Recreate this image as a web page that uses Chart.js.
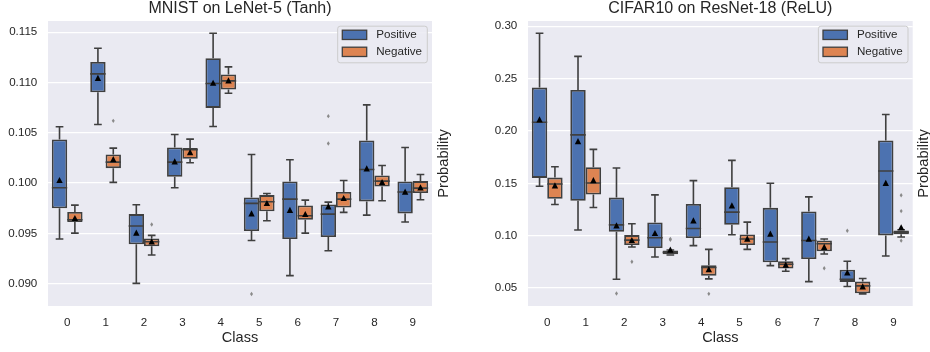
<!DOCTYPE html>
<html><head><meta charset="utf-8">
<script src="https://cdn.jsdelivr.net/npm/chart.js@4"></script>
<style>
html,body{margin:0;padding:0;background:#fff;}
#wrap{position:relative;width:930px;height:352px;overflow:hidden;}
.box{position:absolute;top:0;width:465px;height:352px;}
canvas{display:block;}
</style></head><body>
<div id="wrap">
<div class="box" style="left:0"><canvas id="c1" width="465" height="352"></canvas></div>
<div class="box" style="left:465px"><canvas id="c2" width="465" height="352"></canvas></div>
</div>
<script>
// ---------- data ----------
const classes = ['0','1','2','3','4','5','6','7','8','9'];
const seriesNames = ['Positive','Negative'];

const mnistYTicks = [0.090,0.095,0.100,0.105,0.110,0.115];
const cifarYTicks = [0.05,0.10,0.15,0.20,0.25,0.30];

// MNIST on LeNet-5 (Tanh) — Positive
const mnistPosLo   = [0.09444,0.10583,0.09003,0.09954,0.10563,0.09430,0.09080,0.09328,0.09682,0.09613];
const mnistPosQ1   = [0.09749,0.10904,0.09391,0.10063,0.10748,0.09523,0.09444,0.09464,0.09818,0.09699];
const mnistPosMed  = [0.09954,0.11086,0.09573,0.10209,0.10990,0.09798,0.09841,0.09692,0.10136,0.09911];
const mnistPosQ3   = [0.10434,0.11205,0.09692,0.10354,0.11242,0.09858,0.10017,0.09788,0.10424,0.10017];
const mnistPosHi   = [0.10560,0.11341,0.09785,0.10483,0.11490,0.10285,0.10232,0.09811,0.10778,0.10354];
const mnistPosMean = [0.10030,0.11046,0.09507,0.10215,0.10997,0.09699,0.09732,0.09768,0.10146,0.09914];
const mnistPosOut  = [[],[],[],[],[],[0.08897],[],[0.10666,0.10394],[],[]];
// MNIST — Negative
const mnistNegLo   = [0.09503,0.10007,0.09285,0.10202,0.10894,0.09626,0.09503,0.09709,0.09825,0.09834];
const mnistNegQ1   = [0.09613,0.10149,0.09371,0.10242,0.10930,0.09719,0.09636,0.09758,0.09967,0.09901];
const mnistNegMed  = [0.09636,0.10209,0.09417,0.10331,0.11017,0.09815,0.09675,0.09841,0.10020,0.09950];
const mnistNegQ3   = [0.09712,0.10285,0.09450,0.10348,0.11080,0.09881,0.09778,0.09911,0.10076,0.10020];
const mnistNegHi   = [0.09781,0.10348,0.09480,0.10437,0.11156,0.09897,0.09831,0.10026,0.10175,0.10086];
const mnistNegMean = [0.09652,0.10238,0.09420,0.10308,0.11020,0.09801,0.09692,0.09851,0.10010,0.09957];
const mnistNegOut  = [[],[0.10619],[0.09589],[],[],[],[],[],[],[]];

// CIFAR10 on ResNet-18 (ReLU) — Positive
const cifarPosLo   = [0.1472,0.1054,0.0584,0.0797,0.0905,0.1009,0.0714,0.0562,0.0515,0.0807];
const cifarPosQ1   = [0.1552,0.1333,0.1038,0.0882,0.0978,0.1104,0.0746,0.0778,0.0559,0.1003];
const cifarPosMed  = [0.2084,0.1963,0.1104,0.0981,0.1069,0.1225,0.0940,0.0955,0.0584,0.1618];
const cifarPosQ3   = [0.2414,0.2391,0.1364,0.1126,0.1304,0.1463,0.1266,0.1231,0.0676,0.1910];
const cifarPosHi   = [0.2933,0.2712,0.1646,0.1390,0.1526,0.1719,0.1501,0.1371,0.0756,0.2157];
const cifarPosMean = [0.2109,0.1903,0.1098,0.1025,0.1145,0.1288,0.1019,0.0971,0.0648,0.1504];
const cifarPosOut  = [[],[],[0.0448],[],[],[],[],[],[0.1047],[]];
// CIFAR10 — Negative
const cifarNegLo   = [0.1298,0.1269,0.0892,0.0816,0.0588,0.0870,0.0661,0.0825,0.0445,0.0988];
const cifarNegQ1   = [0.1352,0.1393,0.0911,0.0822,0.0619,0.0911,0.0686,0.0851,0.0451,0.1013];
const cifarNegMed  = [0.1494,0.1504,0.0958,0.0841,0.0696,0.0968,0.0727,0.0924,0.0521,0.1032];
const cifarNegQ3   = [0.1555,0.1653,0.1006,0.0860,0.0718,0.1012,0.0756,0.0955,0.0562,0.1051];
const cifarNegHi   = [0.1659,0.1824,0.1114,0.0863,0.0870,0.1130,0.0781,0.0968,0.0591,0.1057];
const cifarNegMean = [0.1479,0.1529,0.0958,0.0867,0.0680,0.0971,0.0724,0.0892,0.0515,0.1080];
const cifarNegOut  = [[],[],[0.0752],[0.0968,0.0962],[0.0445],[],[],[0.0689],[],[0.1387,0.1235,0.0953]];

// ---------- style ----------
const EDGE = '#3f3f3f';
const TEXT = '#262626';
const FONT = "'Liberation Sans', Arial, sans-serif";
const COLORS = ['#4c72b0','#dd8452'];

function makeDataset(name, color, q1, q3, lo, med, hi, mean, out) {
  return {
    label: name,
    data: q1.map((v, i) => [v, q3[i]]),
    backgroundColor: color,
    borderColor: EDGE,
    borderWidth: 1.8,
    borderSkipped: false,
    categoryPercentage: 0.8,
    barPercentage: 1.0,
    stats: {lo, med, hi, mean, out}
  };
}

const boxPlugin = {
  id: 'boxExtras',
  beforeDraw(chart) {
    const {ctx, chartArea: a} = chart;
    ctx.save();
    ctx.fillStyle = '#eaeaf2';
    ctx.fillRect(a.left, a.top, a.right - a.left, a.bottom - a.top);
    ctx.restore();
  },
  afterDatasetsDraw(chart) {
    const ctx = chart.ctx, ys = chart.scales.y;
    ctx.save();
    chart.data.datasets.forEach((ds, d) => {
      const meta = chart.getDatasetMeta(d);
      const st = ds.stats;
      meta.data.forEach((el, i) => {
        const x = el.x, w = el.width;
        const pLo = ys.getPixelForValue(st.lo[i]);
        const pHi = ys.getPixelForValue(st.hi[i]);
        const pQ1 = ys.getPixelForValue(ds.data[i][0]);
        const pQ3 = ys.getPixelForValue(ds.data[i][1]);
        const pMed = ys.getPixelForValue(st.med[i]);
        ctx.strokeStyle = EDGE;
        ctx.lineWidth = 1.6;
        ctx.beginPath();
        ctx.moveTo(x, pQ3); ctx.lineTo(x, pHi);
        ctx.moveTo(x, pQ1); ctx.lineTo(x, pLo);
        ctx.moveTo(x - w / 4, pHi); ctx.lineTo(x + w / 4, pHi);
        ctx.moveTo(x - w / 4, pLo); ctx.lineTo(x + w / 4, pLo);
        ctx.moveTo(x - w / 2, pMed); ctx.lineTo(x + w / 2, pMed);
        ctx.stroke();
        // outliers (diamonds)
        ctx.fillStyle = '#8a8a8a';
        st.out[i].forEach(v => {
          const py = ys.getPixelForValue(v);
          ctx.beginPath();
          ctx.moveTo(x, py - 2.2); ctx.lineTo(x + 1.5, py);
          ctx.lineTo(x, py + 2.2); ctx.lineTo(x - 1.5, py);
          ctx.closePath(); ctx.fill();
        });
        // mean triangle
        const pm = ys.getPixelForValue(st.mean[i]);
        ctx.fillStyle = '#000';
        ctx.beginPath();
        ctx.moveTo(x, pm - 3.2); ctx.lineTo(x + 3.2, pm + 3.0); ctx.lineTo(x - 3.2, pm + 3.0);
        ctx.closePath(); ctx.fill();
      });
    });
    ctx.restore();
  },
  afterDraw(chart) {
    const {ctx, chartArea: a} = chart;
    ctx.save();
    // legend
    const fw = 89.6, fh = 36.6;
    const fx = a.right - 4.7 - fw, fy = a.top + 5.2;
    ctx.fillStyle = 'rgba(234,234,242,0.85)';
    ctx.strokeStyle = '#cccccc';
    ctx.lineWidth = 1;
    ctx.beginPath();
    if (ctx.roundRect) ctx.roundRect(fx, fy, fw, fh, 2.5); else ctx.rect(fx, fy, fw, fh);
    ctx.fill(); ctx.stroke();
    ctx.font = '11.6px ' + FONT;
    ctx.textBaseline = 'middle';
    ctx.textAlign = 'left';
    chart.data.datasets.forEach((ds, d) => {
      const py = fy + 4 + d * 17;
      ctx.fillStyle = ds.backgroundColor;
      ctx.fillRect(fx + 4.6, py, 24.4, 9.3);
      ctx.strokeStyle = EDGE; ctx.lineWidth = 1.3;
      ctx.strokeRect(fx + 4.6, py, 24.4, 9.3);
      ctx.fillStyle = TEXT;
      ctx.fillText(ds.label, fx + 38.5, py + 5);
    });
    // right-side y label
    ctx.translate(a.right + 11.5, (a.top + a.bottom) / 2);
    ctx.rotate(-Math.PI / 2);
    ctx.textAlign = 'center';
    ctx.textBaseline = 'middle';
    ctx.font = '14.7px ' + FONT;
    ctx.fillStyle = TEXT;
    ctx.fillText('Probability', 0, 0);
    ctx.restore();
  }
};

function makeChart(id, title, datasets, yMin, yMax, yTicks, dec, axisW, padRight) {
  return new Chart(document.getElementById(id), {
    type: 'bar',
    data: {labels: classes, datasets},
    options: {
      responsive: false,
      animation: false,
      layout: {padding: {left: 0, right: padRight, top: 0, bottom: 0}},
      plugins: {
        legend: {display: false},
        tooltip: {enabled: false},
        title: {
          display: true, text: title, color: TEXT, fullSize: false,
          font: {family: FONT, size: 16, weight: 'normal', lineHeight: 1},
          padding: {top: 1, bottom: 4}
        }
      },
      scales: {
        x: {
          type: 'category',
          offset: true,
          grid: {display: false, drawTicks: false},
          border: {display: false},
          ticks: {color: TEXT, font: {family: FONT, size: 11.6}, padding: 10},
          title: {display: true, text: 'Class', color: TEXT,
                  font: {family: FONT, size: 14.5, weight: 'normal', lineHeight: 1.2},
                  padding: {top: 0, bottom: 5}},
          afterFit: s => { s.height = 46; }
        },
        y: {
          type: 'linear',
          min: yMin, max: yMax,
          afterBuildTicks: s => { s.ticks = yTicks.map(v => ({value: v})); },
          grid: {color: '#ffffff', lineWidth: 1.3, drawTicks: false},
          border: {display: false},
          ticks: {color: TEXT, font: {family: FONT, size: 11.6}, padding: 10.7,
                  callback: v => Number(v).toFixed(dec)},
          afterFit: s => { s.width = axisW; }
        }
      }
    },
    plugins: [boxPlugin]
  });
}

makeChart('c1', 'MNIST on LeNet-5 (Tanh)', [
  makeDataset(seriesNames[0], COLORS[0], mnistPosQ1, mnistPosQ3, mnistPosLo, mnistPosMed, mnistPosHi, mnistPosMean, mnistPosOut),
  makeDataset(seriesNames[1], COLORS[1], mnistNegQ1, mnistNegQ3, mnistNegLo, mnistNegMed, mnistNegHi, mnistNegMean, mnistNegOut)
], 0.08778, 0.11612, mnistYTicks, 3, 48, 33);

makeChart('c2', 'CIFAR10 on ResNet-18 (ReLU)', [
  makeDataset(seriesNames[0], COLORS[0], cifarPosQ1, cifarPosQ3, cifarPosLo, cifarPosMed, cifarPosHi, cifarPosMean, cifarPosOut),
  makeDataset(seriesNames[1], COLORS[1], cifarNegQ1, cifarNegQ3, cifarNegLo, cifarNegMed, cifarNegHi, cifarNegMean, cifarNegOut)
], 0.0329, 0.305, cifarYTicks, 2, 63, 17.3);
</script>
</body></html>
